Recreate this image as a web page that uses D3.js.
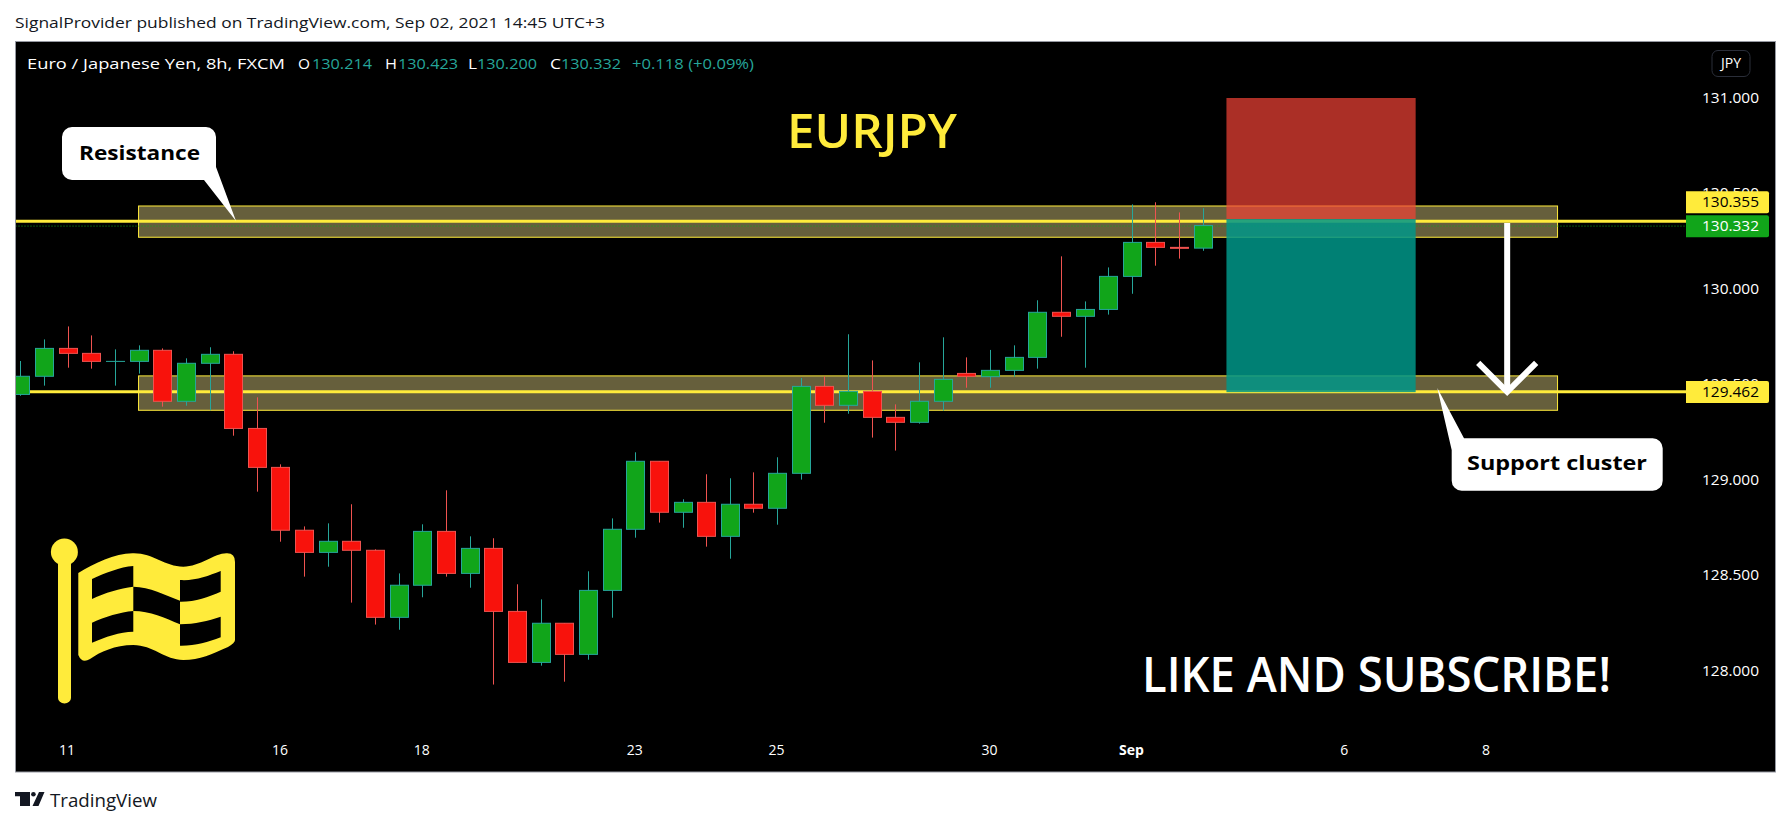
<!DOCTYPE html>
<html><head><meta charset="utf-8">
<script src="https://cdn.jsdelivr.net/npm/d3@7"></script>
<style>html,body{margin:0;padding:0;background:#fff}svg{display:block}</style>
</head><body><svg id="c" width="1791" height="826"></svg>
<script>
// candle values: index is bar number, [open, high, low, close]
const opens  = [129.448,129.543,129.689,129.663,129.621,129.621,129.679,129.412,129.611,129.658,129.270,129.066,128.737,128.621,128.679,128.632,128.281,128.449,128.731,128.511,128.642,128.312,128.045,128.250,128.087,128.422,128.742,129.098,128.831,128.883,128.705,128.873,128.852,129.035,129.490,129.391,129.464,129.328,129.302,129.412,129.558,129.541,129.574,129.642,129.878,129.857,129.893,130.066,130.244,130.218,130.214];
const highs  = [129.623,129.736,129.804,129.757,129.684,129.705,129.689,129.637,129.695,129.674,129.433,129.082,128.757,128.773,128.873,128.637,128.511,128.768,128.946,128.705,128.695,128.454,128.375,128.250,128.522,128.799,129.145,129.098,128.899,129.030,129.009,129.040,129.119,129.534,129.543,129.763,129.626,129.396,129.616,129.747,129.642,129.681,129.705,129.941,130.171,129.935,130.113,130.443,130.454,130.401,130.423];
const lows   = [129.441,129.494,129.588,129.583,129.494,129.557,129.384,129.389,129.365,129.232,128.939,128.677,128.494,128.546,128.358,128.243,128.216,128.386,128.494,128.436,127.929,128.045,128.028,127.944,128.059,128.279,128.698,128.777,128.750,128.651,128.588,128.829,128.766,129.002,129.300,129.347,129.222,129.154,129.295,129.363,129.483,129.483,129.541,129.583,129.750,129.588,129.866,129.975,130.122,130.159,130.200];
const closes = [129.543,129.689,129.663,129.621,129.621,129.679,129.412,129.611,129.658,129.270,129.066,128.737,128.621,128.679,128.632,128.281,128.449,128.731,128.511,128.642,128.312,128.045,128.250,128.087,128.422,128.742,129.098,128.831,128.883,128.705,128.873,128.852,129.035,129.490,129.391,129.464,129.328,129.302,129.412,129.527,129.543,129.574,129.642,129.878,129.857,129.893,130.066,130.244,130.218,130.213,130.332];

const xTickBars   = [2,11,17,26,32,41,47,56,62];
const xTickLabels = ["11","16","18","23","25","30","Sep","6","8"];
const yTicks = [128,128.5,129,129.5,130,130.5,131];

const resistanceLevel = 130.355, supportLevel = 129.462, lastClose = 130.332;
const resistanceZone = [130.4346,130.271], supportZone = [129.545,129.365];
const zoneBars = [5,65];
const positionBars = [51,59], positionPrices = [131.0,130.366,129.46];
const arrowBar = 62.87, arrowPrices = [130.345,129.462];

const legendParts = [["Euro / Japanese Yen, 8h, FXCM",27,258,"#fff"],["O",298,12,"#fff"],["130.214",312,60,"#26a69a"],["H",385,12,"#fff"],["130.423",398,60,"#26a69a"],["L",468,9,"#fff"],["130.200",477,60,"#26a69a"],["C",550,11,"#fff"],["130.332",561,60,"#26a69a"],["+0.118 (+0.09%)",632,122,"#26a69a"]];

const svg = d3.select("#c");
const FONT = "'Open Sans','Noto Sans',sans-serif";
const L=15.5,T=41.5,R=1775.5,B=772;

const x = d3.scaleLinear().domain([0,50]).range([20.3,1202.8]);
const y = d3.scaleLinear().domain([128,131]).range([671,98]);

svg.append("rect").attr("x",L).attr("y",T).attr("width",R-L).attr("height",B-T).attr("fill","#000").attr("stroke","#9598a1").attr("stroke-width",1);
svg.append("defs").append("clipPath").attr("id","pl").append("rect").attr("x",L+.5).attr("y",T+.5).attr("width",R-L-1).attr("height",B-T-1);
const g = svg.append("g").attr("clip-path","url(#pl)");

// zones
[resistanceZone,supportZone].forEach(z=>{
  g.append("rect").attr("x",x(zoneBars[0])).attr("width",x(zoneBars[1])-x(zoneBars[0]))
   .attr("y",y(z[0])).attr("height",y(z[1])-y(z[0]))
   .attr("fill","rgba(255,238,150,0.4)").attr("stroke","#ffeb3b").attr("stroke-width",1);
});
// horizontal lines
[resistanceLevel,supportLevel].forEach(v=>{
  g.append("line").attr("x1",L).attr("x2",1686).attr("y1",y(v)).attr("y2",y(v)).attr("stroke","#ffeb3b").attr("stroke-width",3);
});
g.append("line").attr("x1",L).attr("x2",1686).attr("y1",y(lastClose)+.5).attr("y2",y(lastClose)+.5).attr("stroke","#11a51a").attr("stroke-width",1).attr("stroke-dasharray","1 2");

// candles
const bars = d3.range(opens.length);
const isUp = i=>closes[i]>=opens[i];
const wick = i=>isUp(i)?"#26a69a":"#ef5350";
g.append("g").selectAll("line").data(bars).join("line")
 .attr("x1",i=>Math.round(x(i))+.5).attr("x2",i=>Math.round(x(i))+.5)
 .attr("y1",i=>y(highs[i])).attr("y2",i=>y(lows[i])).attr("stroke",wick).attr("stroke-width",1);
g.append("g").selectAll("rect").data(bars).join("rect")
 .attr("x",i=>Math.round(x(i))+.5-9).attr("width",18)
 .attr("y",i=>y(Math.max(opens[i],closes[i])))
 .attr("height",i=>Math.max(0.01,y(Math.min(opens[i],closes[i]))-y(Math.max(opens[i],closes[i]))))
 .attr("fill",i=>isUp(i)?"#11a51a":"#f8120c").attr("stroke",wick).attr("stroke-width",1);

// position box
g.append("rect").attr("x",x(positionBars[0])).attr("width",x(positionBars[1])-x(positionBars[0]))
 .attr("y",y(positionPrices[0])).attr("height",y(positionPrices[1])-y(positionPrices[0])).attr("fill","#f44336").attr("fill-opacity",.7);
g.append("rect").attr("x",x(positionBars[0])).attr("width",x(positionBars[1])-x(positionBars[0]))
 .attr("y",y(positionPrices[1])).attr("height",y(positionPrices[2])-y(positionPrices[1])).attr("fill","#009688").attr("fill-opacity",.85);

// arrow
const ax=x(arrowBar), a0=y(arrowPrices[0]), a1=y(arrowPrices[1]);
g.append("line").attr("x1",ax).attr("x2",ax).attr("y1",a0).attr("y2",a1).attr("stroke","#fff").attr("stroke-width",6);
g.append("path").attr("d",`M${ax-29},${a1-29}L${ax},${a1}L${ax+29},${a1-29}`).attr("fill","none").attr("stroke","#fff").attr("stroke-width",6);

// callouts
svg.append("path").attr("fill","#fff").attr("d","M72,127H206a10,10 0 0 1 10,10V167L236,221L204,180H72a10,10 0 0 1 -10,-10V137a10,10 0 0 1 10,-10Z");
svg.append("text").text("Resistance").attr("x",139.5).attr("y",160).attr("text-anchor","middle").attr("font-family",FONT).attr("font-weight",700).attr("font-size",20).attr("textLength",121).attr("lengthAdjust","spacingAndGlyphs").attr("fill","#000");
svg.append("path").attr("fill","#fff").attr("d","M1464,438.3H1652.7a10,10 0 0 1 10,10V480.7a10,10 0 0 1 -10,10H1461.7a10,10 0 0 1 -10,-10V450L1437.3,388Z");
svg.append("text").text("Support cluster").attr("x",1557).attr("y",470).attr("text-anchor","middle").attr("font-family",FONT).attr("font-weight",700).attr("font-size",20).attr("textLength",180).attr("lengthAdjust","spacingAndGlyphs").attr("fill","#000");

// big texts
svg.append("text").text("EURJPY").attr("x",872).attr("y",147.7).attr("text-anchor","middle").attr("font-family",FONT).attr("font-weight",600).attr("font-size",47).attr("textLength",170).attr("lengthAdjust","spacingAndGlyphs").attr("fill","#ffeb3b");
svg.append("text").text("LIKE AND SUBSCRIBE!").attr("x",1376.5).attr("y",691.7).attr("text-anchor","middle").attr("font-family",FONT).attr("font-weight",600).attr("font-size",48).attr("textLength",469).attr("lengthAdjust","spacingAndGlyphs").attr("fill","#fff");

// flag
svg.append("path").attr("fill","#ffeb3b").attr("d","M58,558H71V698a6,5 0 0 1 -13,0Z");
svg.append("circle").attr("cx",64.4).attr("cy",552).attr("r",13.5).attr("fill","#ffeb3b");
svg.append("path").attr("fill","#ffeb3b").attr("fill-rule","evenodd").attr("d",
 "M78.3,573C95,563 115,553 133.3,553.3C153,553 165,566.7 183.3,566.7C200,566.7 215,553 226.7,553.3Q235,553 235,562V640Q235,643 228,647C212,654 200,660 183.3,660C165,660 153,645 133.3,645C115,645 100,652 90,659Q82,664 78.3,655Z"+
 "M92,579C105,573 120,567 133.3,566V586.7C120,588 105,593 92,599Z"+
 "M92,622.7C105,617 120,612 133.3,611V631.7C120,632 105,637 92,642.7Z"+
 "M133.3,586.7C150,587 165,595 180,600.7V624.3C165,618 150,611 133.3,611Z"+
 "M180,580C195,581 208,576 220.7,571V591.7C208,597 195,602 180,601.7Z"+
 "M180,624.3C195,624 208,621 220.7,616.7V637.3C208,642 195,646 180,645.7Z");

// y axis
const yAxis = d3.axisRight(y).tickValues(yTicks).tickFormat(d3.format(".3f")).tickSize(0).tickPadding(0);
const yg = svg.append("g").attr("transform","translate(1702,0)").call(yAxis);
yg.select(".domain").remove();
yg.selectAll("text").attr("fill","#fff").attr("font-family",FONT).attr("font-size",14).attr("textLength",57).attr("lengthAdjust","spacingAndGlyphs");

// x axis
const xAxis = d3.axisBottom(x).tickValues(xTickBars).tickFormat((d,i)=>xTickLabels[i]).tickSize(0).tickPadding(0);
const xg = svg.append("g").attr("transform","translate(-1,745)").call(xAxis);
xg.select(".domain").remove();
xg.selectAll("text").attr("fill","#fff").attr("font-family",FONT).attr("font-size",14);
xg.selectAll(".tick").filter((d,i)=>xTickLabels[i]==="Sep").select("text").attr("font-weight",700);

// price tags
const tags=[[resistanceLevel,"#ffeb3b","#000",-19],[lastClose,"#11a51a","#fff",0.7],[supportLevel,"#ffeb3b","#000",0.3]];
tags.forEach(t=>{
  const cy=y(t[0])+t[3];
  svg.append("path").attr("fill",t[1]).attr("d",`M1686,${cy-11}H1767a2,2 0 0 1 2,2V${cy+9}a2,2 0 0 1 -2,2H1686Z`);
  svg.append("text").text(d3.format(".3f")(t[0])).attr("x",1702).attr("y",cy+5).attr("fill",t[2]).attr("font-family",FONT).attr("font-size",14).attr("textLength",57).attr("lengthAdjust","spacingAndGlyphs");
});

// JPY button
svg.append("rect").attr("x",1712).attr("y",50.5).attr("width",38).attr("height",26).attr("rx",6).attr("fill","#000").attr("stroke","#2a2e39").attr("stroke-width",1);
svg.append("text").text("JPY").attr("x",1731).attr("y",68).attr("text-anchor","middle").attr("fill","#fff").attr("font-family",FONT).attr("font-size",14);

// header and legend
svg.append("text").text("SignalProvider published on TradingView.com, Sep 02, 2021 14:45 UTC+3").attr("x",15).attr("y",28).attr("font-family",FONT).attr("font-size",14).attr("textLength",590).attr("lengthAdjust","spacingAndGlyphs").attr("fill","#131722");
svg.append("g").selectAll("text").data(legendParts).join("text").text(d=>d[0]).attr("x",d=>d[1]).attr("y",69).attr("textLength",d=>d[2]).attr("lengthAdjust","spacingAndGlyphs").attr("fill",d=>d[3]).attr("font-family",FONT).attr("font-size",14);

// footer
svg.append("path").attr("fill","#131722").attr("d","M15,792H30V806H20V796.3H15Z M39,792H44.5L38.5,806H32.5Z");
svg.append("circle").attr("cx",33.4).attr("cy",794.2).attr("r",2.3).attr("fill","#131722");
svg.append("text").text("TradingView").attr("x",50).attr("y",807).attr("font-family",FONT).attr("font-size",18).attr("textLength",107).attr("lengthAdjust","spacingAndGlyphs").attr("fill","#131722");
</script></body></html>
